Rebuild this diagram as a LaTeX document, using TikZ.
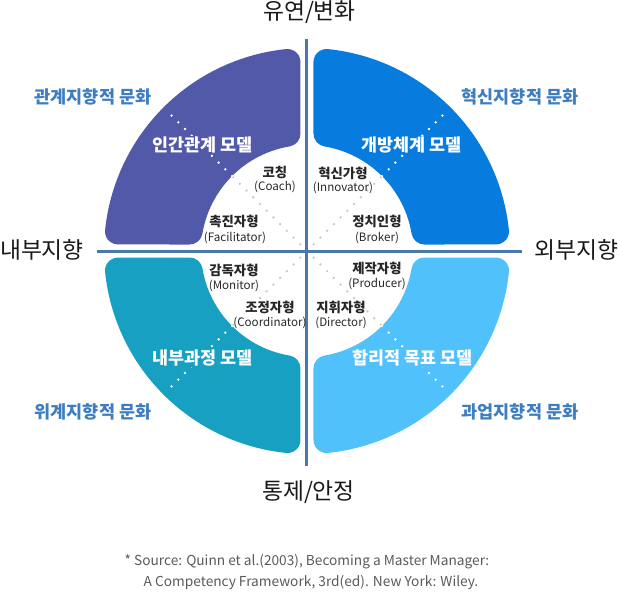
\documentclass[tikz,border=0pt]{standalone}
\usepackage{fontspec}
\setmainfont{Noto Sans CJK KR}
\usetikzlibrary{positioning}

\definecolor{hrcol}{HTML}{5159A8}
\definecolor{oscol}{HTML}{077CDE}
\definecolor{ipcol}{HTML}{17A0C2}
\definecolor{rgcol}{HTML}{50C1FB}
\definecolor{axiscol}{HTML}{4B78AC}
\definecolor{culcol}{HTML}{3D7DC0}
\definecolor{dotcol}{HTML}{C9C9C9}
\definecolor{notecol}{HTML}{5A5A5A}

\newcommand{\qgap}{6.5}
\newcommand{\qout}{203}
\newcommand{\qin}{106}
\newcommand{\qcorner}{13}
% one quarter ring, first quadrant, rounded corners
\newcommand{\quadshape}{(\qgap,\bx) -- (\qgap,\ay)
    arc[start angle=180, end angle=\aang, radius=\qcorner]
    arc[start angle=\aang, end angle=90-\aang, radius=\qout]
    arc[start angle=90-\aang, end angle=-90, radius=\qcorner] -- (\bx,\qgap)
    arc[start angle=270, end angle=180+\bang, radius=\qcorner]
    arc[start angle=\bang, end angle=90-\bang, radius=\qin]
    arc[start angle=270-\bang, end angle=180, radius=\qcorner] -- cycle}

\begin{document}
\begin{tikzpicture}[x=1pt, y=1pt,
    axis/.style={axiscol, line width=3pt},
    wdots/.style={white, line width=2.6pt, line cap=round, dash pattern=on 0pt off 9.5pt},
    gdots/.style={dotcol, line width=2.6pt, line cap=round, dash pattern=on 0pt off 9.5pt},
    axislabel/.style={text=black!90, font=\fontsize{22.8}{27}\selectfont},
    culture/.style={text=culcol, font=\bfseries\fontsize{17.5}{20}\selectfont},
    model/.style={text=white, inner sep=1pt, font=\bfseries\fontsize{17.4}{20}\selectfont},
    role/.style={text=black!85, inner sep=0pt, font=\bfseries\fontsize{13.4}{16}\selectfont},
    rolesub/.style={text=black!85, inner sep=0pt, font=\fontsize{11.6}{13}\selectfont},
    note/.style={text=notecol, inner sep=0pt, font=\fontsize{13.7}{16}\selectfont}]
    \useasboundingbox (-307,-341) rectangle (312,251);

    \pgfmathsetmacro{\ax}{\qgap+\qcorner}
    \pgfmathsetmacro{\ay}{sqrt(\qout-\qcorner-\ax)*sqrt(\qout-\qcorner+\ax)}
    \pgfmathsetmacro{\aang}{atan2(\ay,\ax)}
    \pgfmathsetmacro{\bx}{sqrt(\qin+\qcorner-\ax)*sqrt(\qin+\qcorner+\ax)}
    \pgfmathsetmacro{\bang}{atan2(\ax,\bx)}

    \fill[hrcol, xscale=-1] \quadshape;
    \fill[oscol] \quadshape;
    \fill[ipcol, scale=-1] \quadshape;
    \fill[rgcol, yscale=-1] \quadshape;

    \foreach \a in {45, 135, 225, 315} {
        \draw[gdots] (0,0) -- (\a:\qin);
        \draw[wdots] (\a:\qin) -- (\a:199);
    }

    \coordinate (vtop) at (0,212);
    \coordinate (vbot) at (0,-215);
    \coordinate (hleft) at (-210,0);
    \coordinate (hright) at (215,0);
    \draw[axis] (vtop) -- (vbot);
    \draw[axis] (hleft) -- (hright);

    \node[axislabel] (flex) at (2.5,239) {유연/변화};
    \node[axislabel] (stable) at (1.5,-241) {통제/안정};
    \node[axislabel] (inner) at (-265,1) {내부지향};
    \node[axislabel] (outer) at (269.5,1) {외부지향};

    \node[culture] (hrcult) at (-214,154) {관계지향적 문화};
    \node[culture] (oscult) at (213,154) {혁신지향적 문화};
    \node[culture] (ipcult) at (-214,-161) {위계지향적 문화};
    \node[culture] (rgcult) at (213,-161) {과업지향적 문화};

    \node[model, fill=hrcol] (hrmodel) at (-104.5,106) {인간관계 모델};
    \node[model, fill=oscol] (osmodel) at (104.5,106) {개방체계 모델};
    \node[model, fill=ipcol] (ipmodel) at (-104.5,-107) {내부과정 모델};
    \node[model, fill=rgcol] (rgmodel) at (105.5,-107) {합리적 목표 모델};

    \node[role] (coach) at (-32,79) {코칭};
    \node[rolesub] (coachen) at (-32,64) {(Coach)};
    \node[role] (innov) at (36,78) {혁신가형};
    \node[rolesub] (innoven) at (36,63) {(Innovator)};
    \node[role] (facil) at (-73,30) {촉진자형};
    \node[rolesub] (facilen) at (-72,13) {(Facilitator)};
    \node[role] (broker) at (70,30) {정치인형};
    \node[rolesub] (brokeren) at (70,13) {(Broker)};
    \node[role] (monit) at (-73,-19) {감독자형};
    \node[rolesub] (moniten) at (-73,-35) {(Monitor)};
    \node[role] (produc) at (70,-17) {제작자형};
    \node[rolesub] (producen) at (70,-33) {(Producer)};
    \node[role] (coord) at (-37,-56) {조정자형};
    \node[rolesub] (coorden) at (-37,-72) {(Coordinator)};
    \node[role] (direct) at (34,-56) {지휘자형};
    \node[rolesub] (directen) at (34,-72) {(Director)};

    \node[note] (src) at (0,-311) {* Source: Quinn et al.(2003), Becoming a Master Manager:};
    \node[note] (src2) at (4,-331) {A Competency Framework, 3rd(ed). New York: Wiley.};
\end{tikzpicture}
\end{document}
